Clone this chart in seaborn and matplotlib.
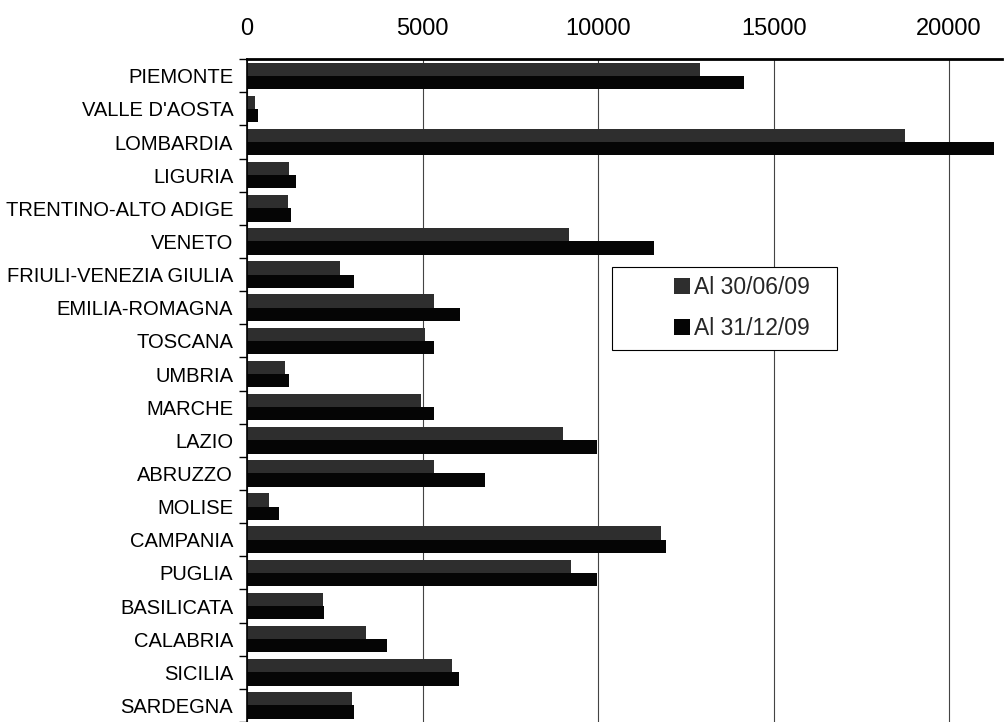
#### Grouped horizontal bars per region, two dates
import numpy as np
import pandas as pd
import matplotlib
matplotlib.use("Agg")
import matplotlib.pyplot as plt
import seaborn as sns
from matplotlib.patches import Rectangle
from matplotlib.ticker import FixedLocator

regions = ["PIEMONTE", "VALLE D'AOSTA", "LOMBARDIA", "LIGURIA", "TRENTINO-ALTO ADIGE",
           "VENETO", "FRIULI-VENEZIA GIULIA", "EMILIA-ROMAGNA", "TOSCANA", "UMBRIA",
           "MARCHE", "LAZIO", "ABRUZZO", "MOLISE", "CAMPANIA",
           "PUGLIA", "BASILICATA", "CALABRIA", "SICILIA", "SARDEGNA"]
al_300609 = [12900, 240, 18750, 1200, 1170, 9180, 2650, 5320, 5080, 1080,
             4960, 9000, 5320, 630, 11800, 9220, 2170, 3400, 5850, 3000]
al_311209 = [14170, 310, 21280, 1400, 1250, 11580, 3050, 6080, 5330, 1190,
             5330, 9980, 6780, 920, 11940, 9960, 2190, 3990, 6040, 3050]
series = ["Al 30/06/09", "Al 31/12/09"]
xticks = [0, 5000, 10000, 15000, 20000]

df = pd.DataFrame({
    "region": regions * 2,
    "value": al_300609 + al_311209,
    "serie": [series[0]] * len(regions) + [series[1]] * len(regions),
})

sns.set_style("white")
plt.rcParams['font.family'] = ['Liberation Sans', 'DejaVu Sans']
plt.rcParams['ytick.minor.visible'] = True

fig = plt.figure(figsize=(10.05, 7.22), dpi=100)
ax = fig.add_axes([0.2458, 0.0, 0.751, 0.918])

sns.barplot(data=df, y="region", x="value", hue="serie", orient="h",
            palette=["#2e2e2e", "#050505"], saturation=1, width=0.8,
            linewidth=0, ax=ax, legend=True)

ax.set_xlim(0, 21500)
ax.set_xticks(xticks)
ax.xaxis.tick_top()
ax.tick_params(axis="x", labelsize=17, length=0, pad=14, colors="black")
ax.tick_params(axis="y", labelsize=14.5, length=0, pad=10, colors="black")
ax.set_xlabel("")
ax.set_ylabel("")
ax.grid(axis="x", color="#444444", linewidth=0.8)
ax.set_axisbelow(True)

# category separators on the left axis, like the original
ax.yaxis.set_minor_locator(FixedLocator(np.arange(-0.5, len(regions), 1)))
ax.tick_params(axis="y", which="minor", length=6, width=1, direction="out",
               color="black", left=True, labelleft=False)

for side in ["right", "bottom"]:
    ax.spines[side].set_visible(False)
ax.spines["top"].set_linewidth(2)
ax.spines["top"].set_color("black")
ax.spines["left"].set_linewidth(1.2)
ax.spines["left"].set_color("black")

# legend box drawn separately so its size matches the original
ax.add_patch(Rectangle((612 / 1005, 1 - 350 / 722), 225 / 1005, 83 / 722,
                       transform=fig.transFigure, facecolor="white",
                       edgecolor="black", linewidth=0.8, zorder=5, clip_on=False))
leg = ax.legend(loc="center", bbox_to_anchor=(742 / 1005, 1 - 308 / 722),
                bbox_transform=fig.transFigure, fontsize=16.5, frameon=False,
                handlelength=0.7, handleheight=0.7, handletextpad=0.15,
                labelspacing=0.75, borderpad=0)
leg.set_zorder(6)

fig.savefig("out.png", dpi=100)
